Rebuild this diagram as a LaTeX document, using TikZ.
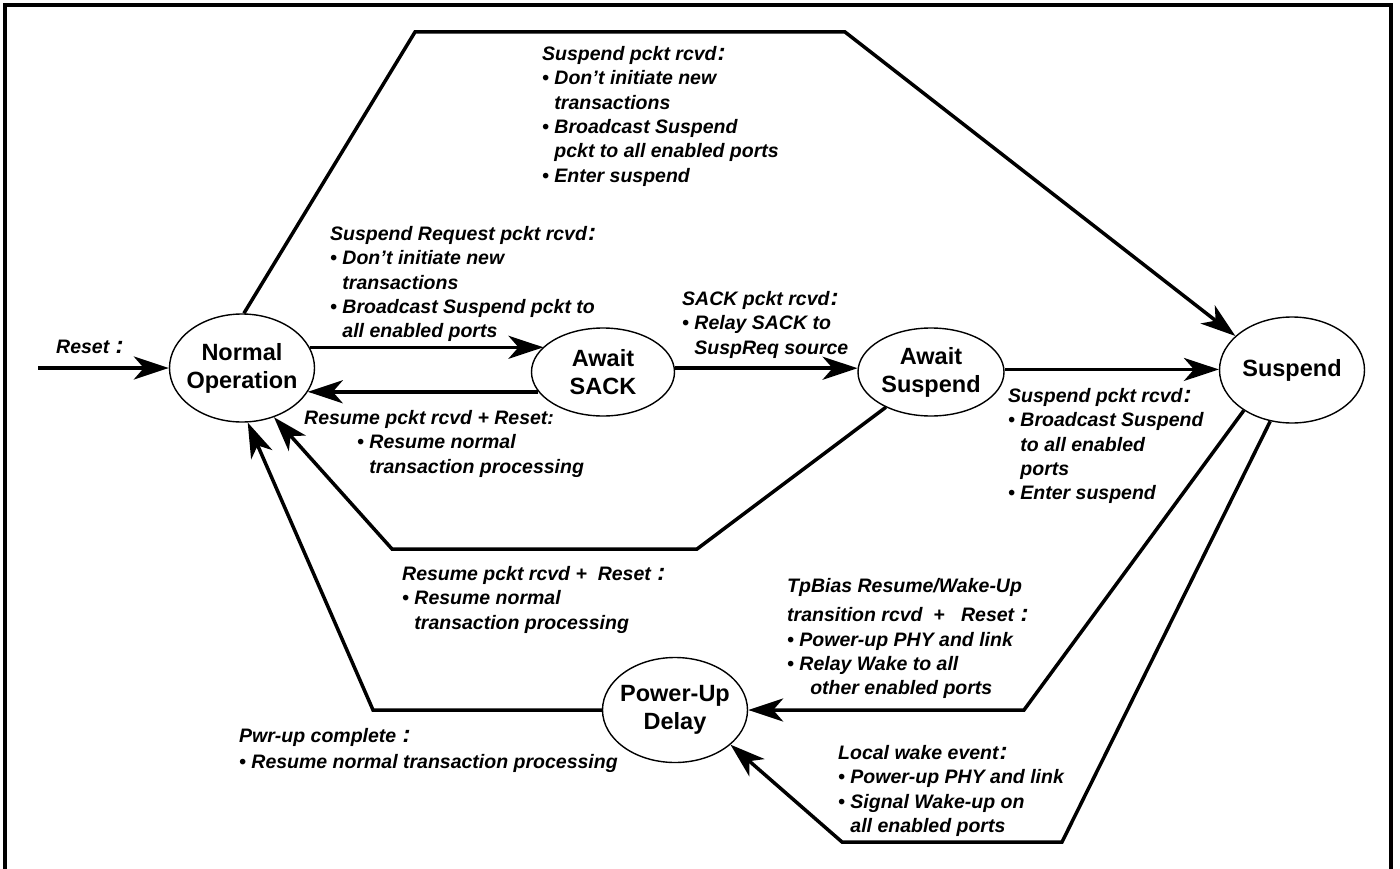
\documentclass[tikz,border=0pt]{standalone}
\usepackage{fontspec}
\setmainfont{Liberation Sans}
\usetikzlibrary{shapes.geometric,arrows.meta}
\newcommand{\bigcolon}{\kern1pt{\fontsize{24}{24}\selectfont :}}
\newcommand{\ind}{\phantom{• }}
\begin{document}
\begin{tikzpicture}[x=1pt,y=-1pt,
  st/.style={ellipse, draw, line width=1.4pt, inner sep=0pt},
  stt/.style={align=center, inner sep=0pt, font=\fontsize{23.5}{28}\selectfont\bfseries},
  arr/.style={line width=3.5pt, -{Stealth[length=35pt,width=23pt,inset=10pt]}},
  frame/.style={line width=4pt},
  lbl/.style={anchor=north west, inner sep=0pt, align=left, font=\fontsize{19.5}{24.4}\selectfont\bfseries\itshape}]
\useasboundingbox (0,0) rectangle (1400,869);
\draw[frame] (5,875) -- (5,5) -- (1391,5) -- (1391,875);

% states
\node[st, minimum width=145, minimum height=108] (N) at (242,368) {};
\node[stt] (Nt) at (N) {Normal\\Operation};
\node[st, minimum width=143, minimum height=88] (S) at (603,372) {};
\node[stt] (St) at (S) {Await\\SACK};
\node[st, minimum width=146, minimum height=88] (A) at (931,372) {};
\node[stt] (At) at (A) {Await\\Suspend};
\node[st, minimum width=145, minimum height=106] (P) at (1292,370) {};
\node[stt] (Pt) at (P) {Suspend};
\node[st, minimum width=145, minimum height=105] (U) at (675,710) {};
\node[stt] (Ut) at (U) {Power-Up\\Delay};

% bend points
\coordinate (rs) at (38,368);
\coordinate (t1) at (415,32);
\coordinate (t2) at (845,32);
\coordinate (b1) at (697,549);
\coordinate (b2) at (392,549);
\coordinate (p1) at (373,710);
\coordinate (q1) at (1024,710);
\coordinate (q2) at (1062,842);
\coordinate (q3) at (842,842);

% connectors
\draw[arr] (rs) -- (N.west);
\draw[arr] (N.88) -- (t1) -- (t2) -- (P.149);
\draw[arr] (N.17.5) -- (S.157 |- N.17.5);
\draw[arr] (S.197) -- (N.-20 |- S.197);
\draw[arr] (S.3) -- (A.177 |- S.3);
\draw[arr] (A.2) -- (P.178 |- A.2);
\draw[arr] (A.218) -- (b1) -- (b2) -- (N.-57);
\draw[arr] (U.west) -- (p1) -- (N.-84);
\draw[arr] (P.220) -- (q1) -- (U.east);
\draw[arr] (P.247) -- (q2) -- (q3) -- (U.-32);

% labels
\node[lbl] (l0) at (56,340) {Reset \bigcolon};
\node[lbl] (l1) at (542,46) {Suspend pckt rcvd\bigcolon\\• Don’t initiate new\\\ind transactions\\• Broadcast Suspend\\\ind pckt to all enabled ports\\• Enter suspend};
\node[lbl] (l2) at (330,226) {Suspend Request pckt rcvd\bigcolon\\• Don’t initiate new\\\ind transactions\\• Broadcast Suspend pckt to\\\ind all enabled ports};
\node[lbl] (l3) at (682,291) {SACK pckt rcvd\bigcolon\\• Relay SACK to\\\ind SuspReq source};
\node[lbl] (l4) at (304,410) {Resume pckt rcvd + Reset:\\\hspace*{53pt}• Resume normal\\\hspace*{53pt}\ind transaction processing};
\node[lbl] (l5) at (1008,388) {Suspend pckt rcvd\bigcolon\\• Broadcast Suspend\\\ind to all enabled\\\ind ports\\• Enter suspend};
\node[lbl] (l6) at (402,566) {Resume pckt rcvd +\ \ Reset \bigcolon\\• Resume normal\\\ind transaction processing};
\node[lbl] (l7) at (787,578) {TpBias Resume/Wake-Up\\[5pt]transition rcvd \ + \ \ Reset \bigcolon\\• Power-up PHY and link\\• Relay Wake to all\\\ind\ \ other enabled ports};
\node[lbl] (l8) at (239,728) {Pwr-up complete \bigcolon\\[2pt]• Resume normal transaction processing};
\node[lbl] (l9) at (838,745) {Local wake event\bigcolon\\• Power-up PHY and link\\• Signal Wake-up on\\\ind all enabled ports};
\end{tikzpicture}
\end{document}
